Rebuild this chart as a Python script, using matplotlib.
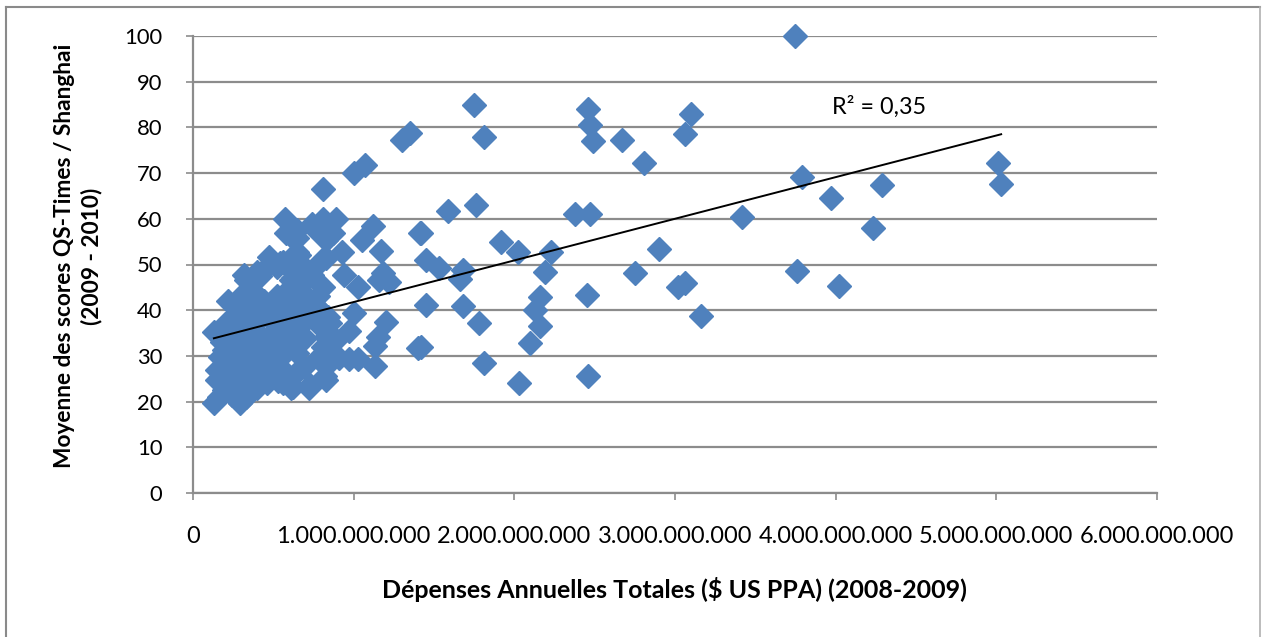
import numpy as np
import matplotlib
matplotlib.use("Agg")
import matplotlib.pyplot as plt
from matplotlib.lines import Line2D

# Annual spending (billions of US$ PPP) and mean QS-Times / Shanghai score
spend_bn = [
    # high spenders
    3.75, 3.79, 3.97, 4.29, 4.23, 3.76, 4.02, 5.01, 5.03, 3.42,
    # middle range
    1.75, 1.81, 1.35, 1.30, 2.46, 2.47, 2.49, 2.67, 2.81, 3.10,
    3.06, 1.59, 1.76, 2.38, 2.47, 1.42, 1.45, 1.53, 1.68, 1.66,
    1.92, 2.02, 2.23, 2.19, 2.90, 2.75, 3.02, 3.06, 1.45, 1.68,
    1.78, 1.42, 1.81, 2.03, 2.16, 2.13, 2.16, 2.10, 2.45, 2.46,
    3.16,
    # around one billion
    1.07, 1.00, 0.81, 0.57, 0.74, 0.81, 0.89, 1.12, 0.58, 0.65,
    0.85, 0.83, 1.05, 0.93, 1.17, 0.65, 0.47, 0.83, 0.54, 0.60,
    0.32, 0.40, 0.94, 1.03, 1.18, 1.41, 1.22, 1.00, 0.97, 1.20,
    1.15, 1.13, 1.13, 0.97, 1.03, 0.91, 0.83, 0.73, 0.83, 0.80,
    0.83, 0.81, 0.78, 0.86, 0.69, 0.65, 0.62, 0.80, 0.81, 0.78,
    0.73, 0.74, 0.87, 0.75, 0.65, 0.68, 0.61, 0.81, 0.85, 1.16,
    1.40, 0.82, 0.72, 0.61, 0.53, 0.58, 0.66, 0.85, 0.89, 0.81,
    0.77, 0.84, 0.46,
    # small budgets
    0.13, 0.13, 0.29, 0.19, 0.17, 0.15, 0.15, 0.19, 0.25, 0.34,
    0.40, 0.44, 0.40, 0.22, 0.27, 0.30, 0.33, 0.38, 0.42, 0.45,
    0.48, 0.52, 0.55, 0.58, 0.62, 0.50, 0.44, 0.36, 0.30, 0.25,
    0.20, 0.22, 0.28, 0.34, 0.40, 0.47, 0.53, 0.58, 0.63, 0.68,
    0.70, 0.66, 0.60, 0.55, 0.49, 0.43, 0.37, 0.31, 0.25, 0.21,
    0.27, 0.33, 0.38, 0.45, 0.51, 0.57, 0.62, 0.68, 0.72, 0.70,
    0.23, 0.29, 0.35, 0.25, 0.30, 0.18, 0.20, 0.27, 0.36, 0.42,
    0.48, 0.52, 0.55, 0.60, 0.57, 0.32, 0.28, 0.35, 0.63, 0.66,
    0.24, 0.33, 0.40, 0.46, 0.50, 0.56, 0.31, 0.39, 0.47, 0.16,
    0.66, 0.70, 0.62, 0.56, 0.52, 0.26,
]
score = [
    100.0, 69.1, 64.5, 67.5, 57.9, 48.6, 45.3, 72.2, 67.6, 60.5,
    85.0, 77.8, 78.7, 77.2, 84.0, 80.5, 77.0, 77.2, 72.3, 82.9,
    78.6, 61.6, 63.0, 61.0, 61.0, 57.0, 51.0, 49.2, 48.8, 46.8,
    54.9, 52.8, 52.8, 48.3, 53.5, 48.2, 45.1, 46.0, 41.1, 40.9,
    37.3, 31.9, 28.4, 24.0, 42.8, 40.0, 36.5, 32.9, 43.3, 25.6,
    38.7,
    71.8, 70.0, 66.5, 59.9, 58.9, 59.9, 59.9, 58.5, 56.8, 55.7,
    57.2, 55.4, 55.3, 52.8, 53.0, 52.8, 51.7, 51.4, 50.3, 49.5,
    47.7, 48.4, 47.7, 45.1, 48.1, 56.8, 46.2, 39.3, 35.5, 37.4,
    34.2, 32.1, 27.8, 29.3, 29.4, 29.5, 24.7, 23.6, 27.8, 36.0,
    34.2, 32.0, 29.5, 30.6, 27.6, 30.6, 23.2, 51.0, 45.1, 43.0,
    42.2, 47.7, 56.8, 57.9, 57.5, 49.9, 46.6, 39.3, 37.1, 46.6,
    31.7, 25.5, 22.9, 22.9, 24.4, 30.9, 26.9, 34.9, 33.5, 37.9,
    40.8, 38.6, 40.0,
    35.3, 19.6, 19.6, 31.3, 29.8, 26.9, 24.7, 22.5, 23.3, 25.4,
    26.9, 26.9, 30.2, 42.0, 41.0, 43.0, 46.5, 44.0, 47.5, 49.0,
    41.0, 43.0, 39.0, 44.0, 47.0, 39.5, 42.0, 40.0, 38.0, 38.5,
    37.0, 34.0, 35.0, 36.0, 37.5, 38.5, 40.0, 42.0, 41.0, 42.0,
    38.0, 40.0, 38.0, 36.0, 35.0, 34.0, 33.0, 32.0, 31.0, 28.0,
    28.5, 29.0, 30.5, 31.0, 32.0, 33.0, 35.0, 37.0, 39.0, 34.0,
    26.0, 25.0, 27.5, 33.5, 27.0, 33.0, 24.5, 22.5, 23.5, 28.5,
    29.0, 27.0, 30.5, 32.5, 26.5, 39.5, 31.0, 41.5, 55.5, 52.0,
    21.5, 21.0, 23.0, 24.0, 25.5, 24.0, 23.5, 28.0, 27.0, 21.0,
    45.0, 46.5, 44.5, 50.5, 49.5, 21.0,
]

x_ticks = [0, 1e9, 2e9, 3e9, 4e9, 5e9, 6e9]
x_tick_labels = ["0", "1.000.000.000", "2.000.000.000", "3.000.000.000",
                 "4.000.000.000", "5.000.000.000", "6.000.000.000"]
y_ticks = list(range(0, 101, 10))
r2_label = "R² = 0,35"

spend = np.array(spend_bn) * 1e9
score = np.array(score)

plt.rcParams["font.family"] = ["Lato", "DejaVu Sans"]

W, H = 1262, 637
fig = plt.figure(figsize=(W / 100, H / 100), dpi=100)
fig.patch.set_facecolor("white")

# chart border (open at the bottom edge of the page)
frame_c = "#8a8a8a"
fig.add_artist(Line2D([5.5 / W, 5.5 / W], [0, 1 - 7 / H], color=frame_c, lw=1.5))
fig.add_artist(Line2D([5.5 / W, 1259.5 / W], [1 - 7 / H, 1 - 7 / H], color=frame_c, lw=1.5))
fig.add_artist(Line2D([1259.5 / W, 1259.5 / W], [0, 1 - 7 / H], color="#b0b0b0", lw=1.2))

ax = fig.add_axes([193 / W, 1 - 493 / H, (1157 - 193) / W, (493 - 36) / H])
ax.set_xlim(0, 6e9)
ax.set_ylim(0, 100)

grid_c = "#8c8c8c"
ax.set_yticks(y_ticks)
ax.set_yticklabels([str(v) for v in y_ticks])
ax.set_xticks(x_ticks)
ax.set_xticklabels(x_tick_labels)
ax.yaxis.grid(True, color=grid_c, lw=1.6)
ax.xaxis.grid(False)
ax.set_axisbelow(True)
for s in ("top", "right"):
    ax.spines[s].set_visible(False)
for s in ("left", "bottom"):
    ax.spines[s].set_color(grid_c)
    ax.spines[s].set_linewidth(1.6)
ax.tick_params(axis="both", direction="out", length=5, width=1.2, color=grid_c,
               labelcolor="black")
ax.tick_params(axis="x", pad=19, labelsize=17)
ax.tick_params(axis="y", pad=17, labelsize=15.8)

ax.plot(spend, score, linestyle="none", marker="D", markersize=12,
        color="#4f81bd", markeredgecolor="#4f81bd", zorder=3, clip_on=False)

# least-squares trend line over the data range
slope, intercept = np.polyfit(spend, score, 1)
xs = np.array([spend.min(), spend.max()])
ax.plot(xs, intercept + slope * xs, color="black", lw=1.4, zorder=4)

ax.text(3.98e9, 84.5, r2_label, fontsize=16.8, ha="left", va="center")

fig.text(674 / W, 1 - 590 / H, "Dépenses Annuelles Totales ($ US PPA) (2008-2009)",
         fontsize=18, fontweight="bold", ha="center", va="center")
fig.text(78 / W, 1 - 256 / H, "Moyenne des scores QS-Times / Shanghai\n(2009 - 2010)",
         fontsize=16.3, fontweight="bold", ha="center", va="center", rotation=90,
         linespacing=1.3, multialignment="center")

fig.savefig("out.png", dpi=100, facecolor="white")
